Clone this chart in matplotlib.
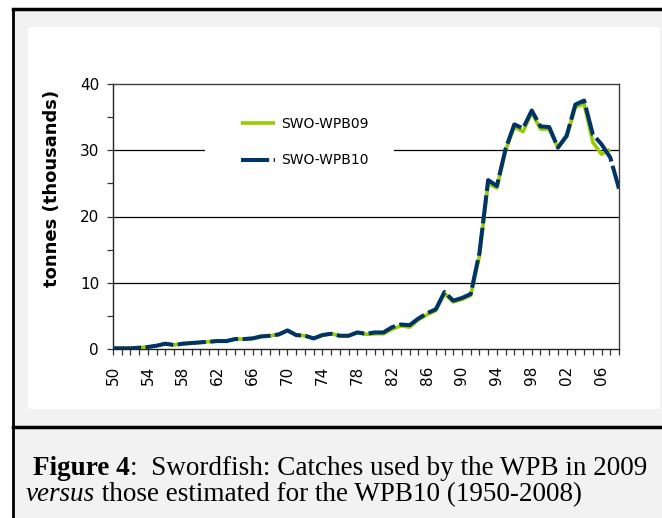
import matplotlib
matplotlib.use("Agg")
import matplotlib.pyplot as plt
from matplotlib.patches import Rectangle
from matplotlib.lines import Line2D

# datos: capturas de pez espada (miles de toneladas)
years_09 = list(range(1950, 2008))
years_10 = list(range(1950, 2009))
swo_wpb09 = [0.1, 0.1, 0.1, 0.2, 0.3, 0.5, 0.8, 0.6, 0.8, 0.9,
             1.0, 1.1, 1.2, 1.2, 1.5, 1.5, 1.6, 1.9, 2.0, 2.2,
             2.8, 2.1, 2.0, 1.6, 2.1, 2.3, 2.0, 2.0, 2.5, 2.2,
             2.3, 2.3, 3.0, 3.5, 3.3, 4.4, 5.2, 5.8, 8.4, 7.1,
             7.5, 8.1, 14.0, 25.0, 24.3, 30.0, 33.5, 32.8, 35.7, 33.2,
             33.2, 30.4, 32.0, 36.5, 37.0, 31.2, 29.4, 30.1]
swo_wpb10 = [0.1, 0.1, 0.1, 0.2, 0.3, 0.5, 0.8, 0.6, 0.8, 0.9,
             1.0, 1.1, 1.2, 1.2, 1.5, 1.5, 1.6, 1.9, 2.0, 2.2,
             2.8, 2.1, 2.0, 1.6, 2.1, 2.3, 2.0, 2.0, 2.5, 2.3,
             2.5, 2.5, 3.3, 3.7, 3.6, 4.6, 5.4, 6.0, 8.6, 7.3,
             7.7, 8.3, 14.5, 25.5, 24.6, 30.2, 33.9, 33.3, 36.0, 33.6,
             33.5, 30.4, 32.2, 36.9, 37.5, 32.4, 30.9, 28.9, 24.2]
label_years = list(range(1950, 2009, 4))
y_ticks = [0, 10, 20, 30, 40]

W, H = 662, 518
GREEN = "#99cc00"
NAVY = "#003366"


def fx(x):
    return x / W


def fy(y):
    return 1 - y / H


fig = plt.figure(figsize=(W / 100, H / 100), dpi=100)
fig.patch.set_facecolor("white")

# fondo gris, zona blanca del grafico y marco negro
fig.add_artist(Rectangle((fx(13), 0), 1 - fx(13), fy(9), transform=fig.transFigure,
                         facecolor="#f2f2f2", edgecolor="none", zorder=0))
fig.add_artist(Rectangle((fx(28), fy(409)), fx(660) - fx(28), fy(27) - fy(409),
                         transform=fig.transFigure, facecolor="white",
                         edgecolor="none", zorder=0))
fig.add_artist(Line2D([fx(13), fx(13)], [0, fy(9)], transform=fig.transFigure,
                      color="black", lw=2))
fig.add_artist(Line2D([fx(13), 1], [fy(9), fy(9)], transform=fig.transFigure,
                      color="black", lw=2.5))
fig.add_artist(Line2D([fx(13), 1], [fy(427), fy(427)], transform=fig.transFigure,
                      color="black", lw=2.5))

ax = fig.add_axes([fx(113), fy(349), fx(619) - fx(113), fy(84) - fy(349)])
ax.set_facecolor("white")

# lineas de la cuadricula
for v in [10, 20, 30]:
    ax.axhline(v, color="black", lw=0.9, zorder=1)

# caja blanca de la leyenda tapa la linea de 30
ax.add_patch(Rectangle((fx(205), fy(185)), fx(394) - fx(205), fy(100) - fy(185),
                       transform=fig.transFigure, facecolor="white",
                       edgecolor="none", zorder=2))

ax.plot(years_09, swo_wpb09, color=GREEN, lw=2.6, label="SWO-WPB09",
        solid_capstyle="butt", zorder=3)
ax.plot(years_10, swo_wpb10, color=NAVY, lw=2.9, label="SWO-WPB10",
        dashes=(7, 1.1), dash_capstyle="butt", zorder=4)

ax.set_xlim(1950, 2008)
ax.set_ylim(0, 40)
ax.set_yticks(y_ticks)
ax.set_yticks([5, 15, 25, 35], minor=True)
ax.set_xticks(years_10, minor=True)
ax.set_xticks(label_years)
ax.set_xticklabels(["%02d" % (y % 100) for y in label_years], rotation=90)

ax.tick_params(axis="both", which="both", direction="out", length=4,
               width=0.9, colors="#333333", labelcolor="black", labelsize=11)
ax.tick_params(axis="y", pad=6)
ax.tick_params(axis="x", pad=8)

for s in ["left", "bottom"]:
    ax.spines[s].set_color("#222222")
    ax.spines[s].set_linewidth(1.0)
for s in ["top", "right"]:
    ax.spines[s].set_color("#404040")
    ax.spines[s].set_linewidth(1.0)

fig.text(fx(52), fy(188), "tonnes (thousands)", rotation=90, ha="center",
         va="center", fontsize=13, fontweight="bold")

leg = ax.legend(loc="upper left", bbox_to_anchor=(fx(228), fy(104)),
                bbox_transform=fig.transFigure, frameon=False, fontsize=10,
                handlelength=2.5, handletextpad=0.4, labelspacing=1.65)
leg.set_zorder(5)

# pie de figura
cap_font = "Liberation Serif"
cap_size = 19.5
ty1, ty2 = fy(475), fy(501)
t1 = fig.text(fx(33), ty1, "Figure 4", fontsize=cap_size, fontweight="bold",
              family=cap_font, va="baseline")
t2 = fig.text(fx(26), ty2, "versus", fontsize=cap_size, style="italic",
              family=cap_font, va="baseline")
fig.canvas.draw()
r = fig.canvas.get_renderer()
fig.text(t1.get_window_extent(r).x1 / W, ty1,
         ":  Swordfish: Catches used by the WPB in 2009",
         fontsize=cap_size, family=cap_font, va="baseline")
fig.text(t2.get_window_extent(r).x1 / W, ty2,
         " those estimated for the WPB10 (1950-2008)",
         fontsize=cap_size, family=cap_font, va="baseline")

fig.savefig("out.png", dpi=100)
